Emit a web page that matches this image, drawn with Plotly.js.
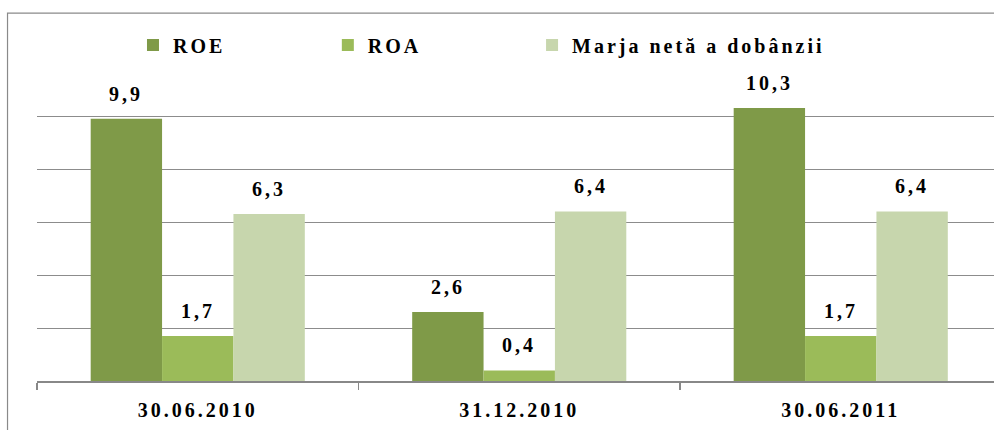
<!DOCTYPE html>
<html>
<head>
<meta charset="utf-8">
<script src="https://cdn.plot.ly/plotly-3.0.1.min.js"></script>
<style>
  html, body { margin: 0; padding: 0; background: #fff; }
  #chart { width: 994px; height: 430px; }
  svg text { letter-spacing: 3px; }
</style>
</head>
<body>
<div id="chart"></div>
<script>
// ---- data ----
const categories = ["30.06.2010", "31.12.2010", "30.06.2011"];
const seriesNames = ["ROE", "ROA", "Marja netă a dobânzii"];
const roe = [9.9, 2.6, 10.3];
const roa = [1.7, 0.4, 1.7];
const marja = [6.3, 6.4, 6.4];
const valueLabels = [
  ["9,9", "2,6", "10,3"],
  ["1,7", "0,4", "1,7"],
  ["6,3", "6,4", "6,4"]
];

const colors = ["#7f9a48", "#9bbb59", "#c7d6ad"];
const series = [roe, roa, marja];
const legendIds = ["legend", "legend2", "legend3"];
const legendX = [0.1003, 0.3039, 0.5173];

const font = "Times New Roman, Liberation Serif, DejaVu Serif, serif";
const bargap = 0.334;

const traces = series.map((vals, k) => ({
  type: "bar",
  name: seriesNames[k],
  x: categories,
  y: vals,
  marker: { color: colors[k], line: { width: 0 } },
  legend: legendIds[k],
  hoverinfo: "skip"
}));

const barW = (1 - bargap) / series.length;
const annotations = [];
series.forEach((vals, k) => {
  vals.forEach((v, i) => {
    annotations.push({
      x: i + (k - (series.length - 1) / 2) * barW,
      y: v,
      xref: "x", yref: "y",
      text: valueLabels[k][i],
      showarrow: false,
      yanchor: "bottom",
      yshift: 12,
      font: { family: font, size: 20, color: "#000", weight: "bold" }
    });
  });
});

const layout = {
  width: 994, height: 430,
  margin: { l: 37, r: 0, t: 63, b: 49 },
  paper_bgcolor: "#fff",
  plot_bgcolor: "#fff",
  barmode: "group",
  bargap: bargap,
  bargroupgap: 0,
  showlegend: true,
  font: { family: font },
  xaxis: {
    type: "category",
    range: [-0.5, 2.4767],
    showgrid: false,
    zeroline: false,
    showline: true,
    linecolor: "#888888",
    linewidth: 1.5,
    ticks: "outside",
    tickson: "boundaries",
    ticklen: 7,
    tickwidth: 1.5,
    tickcolor: "#888888",
    ticklabelstandoff: 10,
    tickfont: { family: font, size: 20, color: "#000", weight: "bold" }
  },
  yaxis: {
    range: [0, 12],
    dtick: 2,
    showgrid: true,
    gridcolor: "#8c8c8c",
    gridwidth: 1,
    zeroline: false,
    showline: false,
    showticklabels: false,
    ticks: ""
  },
  annotations: annotations,
  shapes: [
    {
      type: "path",
      xref: "paper", yref: "paper",
      path: "M -0.0308 -0.2 L -0.0308 1.157 L 1.05 1.157",
      line: { color: "#8a8a8a", width: 1.2 }
    }
  ]
};

legendIds.forEach((id, k) => {
  layout[id] = {
    x: legendX[k], y: 1.0566,
    xanchor: "left", yanchor: "middle",
    orientation: "h",
    bgcolor: "rgba(0,0,0,0)",
    font: { family: font, size: 20, color: "#000", weight: "bold" }
  };
});

Plotly.newPlot("chart", traces, layout, { displayModeBar: false, staticPlot: true });
</script>
</body>
</html>
